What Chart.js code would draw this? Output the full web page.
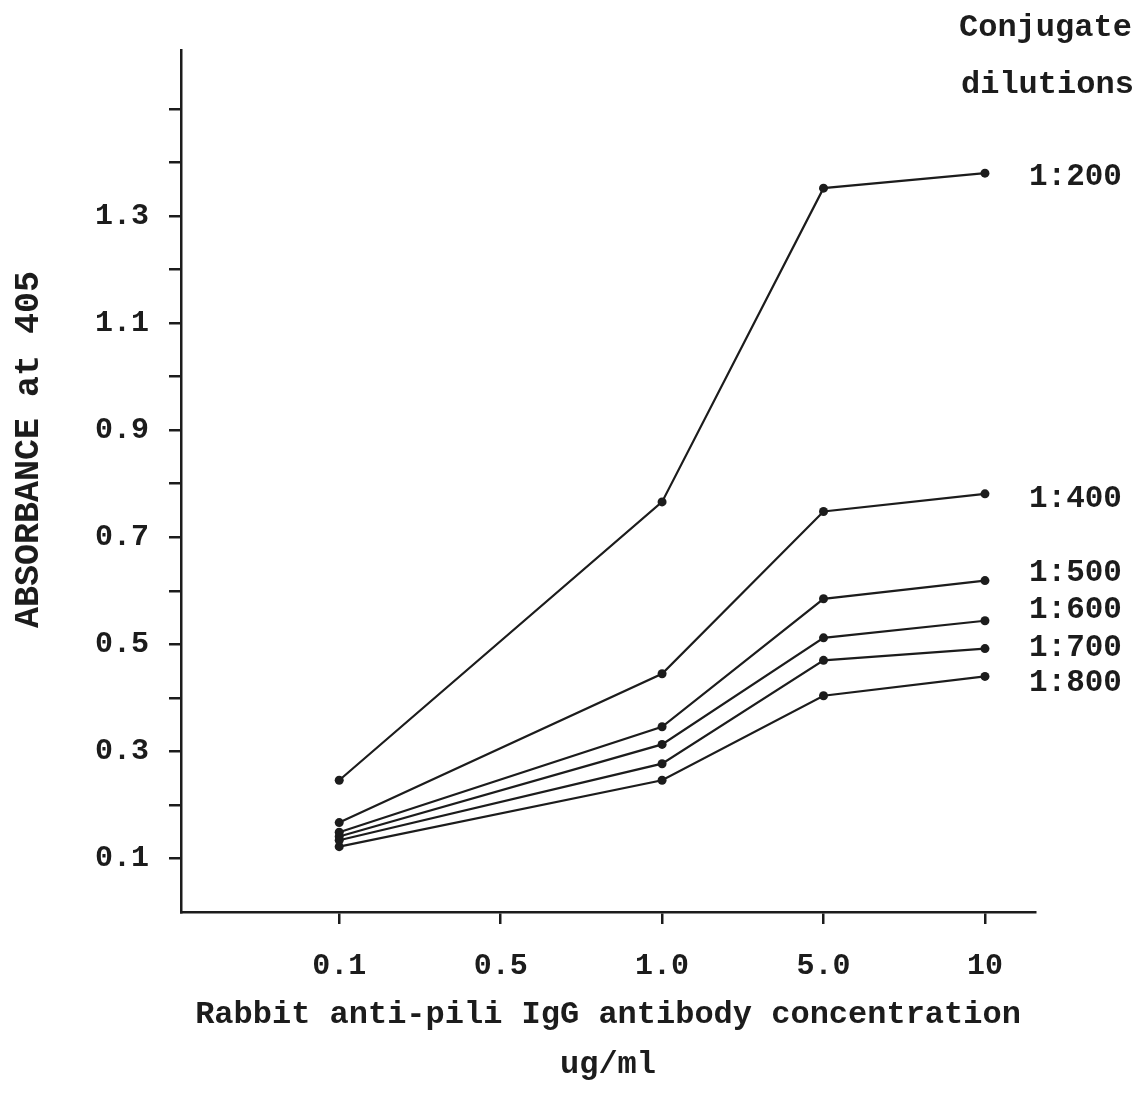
<!DOCTYPE html>
<html>
<head>
<meta charset="utf-8">
<script src="https://cdn.jsdelivr.net/npm/chart.js@4.4.1/dist/chart.umd.min.js"></script>
<style>
html,body{margin:0;padding:0;background:#ffffff;}
#wrap{width:1139px;height:1099px;}
</style>
</head>
<body>
<div id="wrap"><canvas id="c" width="1139" height="1099"></canvas></div>
<script>
// ---- data ----
const xLabels = ["0.1", "0.5", "1.0", "5.0", "10"];
const measuredAt = [0, 2, 3, 4];              // category index of 0.1, 1.0, 5.0, 10
const dilutions = ["1:200", "1:400", "1:500", "1:600", "1:700", "1:800"];
const s200 = [0.246, 0.766, 1.352, 1.380];
const s400 = [0.167, 0.445, 0.748, 0.781];
const s500 = [0.149, 0.346, 0.585, 0.619];
const s600 = [0.141, 0.313, 0.512, 0.544];
const s700 = [0.134, 0.277, 0.470, 0.492];
const s800 = [0.122, 0.246, 0.404, 0.440];
const yTickValues = [0.1, 0.2, 0.3, 0.4, 0.5, 0.6, 0.7, 0.8, 0.9, 1.0, 1.1, 1.2, 1.3, 1.4, 1.5];
const yTickLabels = ["0.1", "0.3", "0.5", "0.7", "0.9", "1.1", "1.3"];
const xTitle = ["Rabbit anti-pili IgG antibody concentration", "ug/ml"];
const yTitle = "   ABSORBANCE at 405";
const legendTitle = ["Conjugate", "dilutions"];

// ---- styles ----
const INK = '#1c1c1c';
const MONO = "'Liberation Mono', 'DejaVu Sans Mono', monospace";
const labelNudge = [4, 5, -7, -11, 0, 7];

const seriesValues = [s200, s400, s500, s600, s700, s800];
const datasets = seriesValues.map((vals, k) => ({
  label: dilutions[k],
  data: vals.map((v, i) => ({x: measuredAt[i], y: v})),
  borderColor: INK,
  backgroundColor: INK,
  borderWidth: 2.2,
  pointRadius: 4.5,
  pointBorderWidth: 0,
  pointBackgroundColor: INK,
  tension: 0,
  clip: false
}));

const labelPlugin = {
  id: 'seriesLabels',
  afterDatasetsDraw(chart) {
    const ctx = chart.ctx;
    const xs = chart.scales.x;
    ctx.save();
    ctx.fillStyle = INK;
    ctx.textBaseline = 'middle';
    ctx.textAlign = 'left';
    ctx.font = "bold 31px " + MONO;
    chart.data.datasets.forEach((ds, k) => {
      const meta = chart.getDatasetMeta(k);
      const last = meta.data[meta.data.length - 1];
      const x = xs.getPixelForValue(measuredAt[measuredAt.length - 1]) + 44;
      ctx.fillText(ds.label, x, last.y + labelNudge[k]);
    });
    ctx.font = "bold 32px " + MONO;
    ctx.fillText(legendTitle[0], 959, 28);
    ctx.fillText(legendTitle[1], 961, 85);
    ctx.restore();
  }
};

new Chart(document.getElementById('c'), {
  type: 'line',
  data: {datasets},
  plugins: [labelPlugin],
  options: {
    responsive: false,
    animation: false,
    devicePixelRatio: 1,
    layout: {padding: {top: 50, right: 104, left: 0, bottom: 0}},
    plugins: {legend: {display: false}, tooltip: {enabled: false}},
    scales: {
      x: {
        type: 'linear',
        min: -0.98,
        max: 4.31,
        afterBuildTicks: s => { s.ticks = xLabels.map((_, i) => ({value: i})); },
        afterFit: s => { s.height = 187; },
        grid: {drawOnChartArea: false, drawTicks: true, tickLength: 12, color: INK, lineWidth: 2.5},
        border: {display: true, color: INK, width: 2.5},
        ticks: {
          callback: v => (xLabels[v] !== undefined ? xLabels[v] : ''),
          font: {family: MONO, weight: 'bold', size: 30},
          color: INK, padding: 24, maxRotation: 0, autoSkip: false
        },
        title: {
          display: true, text: xTitle, color: INK,
          font: {family: MONO, weight: 'bold', size: 32, lineHeight: '50px'},
          padding: {top: 0, bottom: 9}
        }
      },
      y: {
        type: 'linear',
        min: 0,
        max: 1.61,
        afterBuildTicks: s => { s.ticks = yTickValues.map(v => ({value: v})); },
        afterFit: s => { s.width = 181; },
        grid: {drawOnChartArea: false, drawTicks: true, tickLength: 12, color: INK, lineWidth: 2.5},
        border: {display: true, color: INK, width: 2.5},
        ticks: {
          callback: v => (yTickLabels.includes(v.toFixed(1)) ? v.toFixed(1) : ''),
          font: {family: MONO, weight: 'bold', size: 30},
          color: INK, padding: 20, autoSkip: false
        },
        title: {
          display: true, text: yTitle, color: INK,
          font: {family: MONO, weight: 'bold', size: 35},
          padding: {top: 8, bottom: 0}
        }
      }
    }
  }
});
</script>
</body>
</html>
